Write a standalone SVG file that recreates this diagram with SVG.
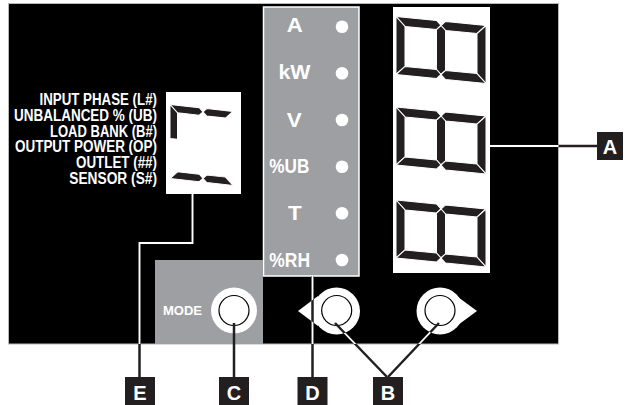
<svg xmlns="http://www.w3.org/2000/svg" width="624" height="405" viewBox="0 0 624 405">
<style>
.seg{fill:#231f20;stroke:#fff;stroke-width:1;stroke-linejoin:miter}
.lbl{font-family:"Liberation Sans",Arial,sans-serif;font-weight:bold;fill:#fff}
.left{font-size:16px;text-anchor:end}
.mid{font-size:21px}
.dot{fill:#fff}
.box{fill:#231f20}
.letter{font-family:"Liberation Sans",Arial,sans-serif;font-weight:bold;font-size:20px;fill:#fff;text-anchor:middle}
.ln{fill:none;stroke:#231f20;stroke-width:2.5}
.lnw{fill:none;stroke:#fff;stroke-width:1.8}
.btn{fill:#fff}
.inner{fill:#fff;stroke:#000;stroke-width:1.2}
</style>
<defs>
<g id="row">
<polygon class="seg" points="0,0 40.5,0 45,4.5 40.5,9 9,9"/>
<polygon class="seg" points="49.5,0 90,0 81,9 49.5,9 45,4.5"/>
<polygon class="seg" points="0,0 9,9 9,49 0,58"/>
<polygon class="seg" points="45,4.5 49.5,9 49.5,49 45,53.5 40.5,49 40.5,9"/>
<polygon class="seg" points="90,0 90,58 81,49 81,9"/>
<polygon class="seg" points="0,58 9,49 40.5,49 45,53.5 40.5,58"/>
<polygon class="seg" points="45,53.5 49.5,49 81,49 90,58 49.5,58"/>
</g>
<mask id="onpanel" maskUnits="userSpaceOnUse" x="0" y="0" width="624" height="405">
<rect x="8.5" y="3.5" width="550" height="340.5" fill="#fff"/>
<rect x="155" y="260" width="108" height="84" fill="#000"/>
<circle cx="234" cy="310.5" r="23" fill="#000"/>
<circle cx="336.5" cy="311" r="23.5" fill="#000"/>
<polygon points="298,311 318,296 318,326" fill="#000"/>
<circle cx="440" cy="311" r="23.5" fill="#000"/>
<polygon points="477,311 458,297 458,325" fill="#000"/>
</mask>
</defs>

<rect id="panel" x="8.5" y="3.5" width="550" height="340.5" fill="#000" stroke="#b8b8b8" stroke-width="1"/>

<g id="left-labels">
<text class="lbl left" x="157" y="105" textLength="117.5" lengthAdjust="spacingAndGlyphs">INPUT PHASE (L#)</text>
<text class="lbl left" x="157" y="120.7" textLength="143" lengthAdjust="spacingAndGlyphs">UNBALANCED % (UB)</text>
<text class="lbl left" x="157" y="136.5" textLength="107" lengthAdjust="spacingAndGlyphs">LOAD BANK (B#)</text>
<text class="lbl left" x="157" y="152.2" textLength="142" lengthAdjust="spacingAndGlyphs">OUTPUT POWER (OP)</text>
<text class="lbl left" x="157" y="168" textLength="81" lengthAdjust="spacingAndGlyphs">OUTLET (##)</text>
<text class="lbl left" x="157" y="183.7" textLength="87.7" lengthAdjust="spacingAndGlyphs">SENSOR (S#)</text>
</g>

<g id="mode-display">
<rect x="166" y="92" width="75" height="102" fill="#fff"/>
<g transform="matrix(1,0.11,0,1,170,104.5)">
<polygon class="seg" points="0,0 29.25,0 33,3.75 29.25,7.5 7.5,7.5"/>
<polygon class="seg" points="36.75,0 63,0 55.5,7.5 36.75,7.5 33,3.75"/>
<polygon class="seg" points="0,0 7.5,7.5 7.5,34 0,34"/>
<polygon class="seg" points="0,74 7.5,66.5 29.25,66.5 33,70.25 29.25,74"/>
<polygon class="seg" points="33,70.25 36.75,66.5 55.5,66.5 63,74 36.75,74"/>
</g>
</g>

<g id="unit-column">
<rect x="263.5" y="7" width="95.5" height="269" fill="#9d9fa2" stroke="#fff" stroke-width="1.5"/>
<text class="lbl mid" x="286.7" y="32" textLength="16" lengthAdjust="spacingAndGlyphs">A</text>
<text class="lbl mid" x="278.5" y="79" textLength="32" lengthAdjust="spacingAndGlyphs">kW</text>
<text class="lbl mid" x="286.7" y="126.5" textLength="15" lengthAdjust="spacingAndGlyphs">V</text>
<text class="lbl mid" x="269.3" y="173" textLength="40" lengthAdjust="spacingAndGlyphs">%UB</text>
<text class="lbl mid" x="288" y="220" textLength="13.7" lengthAdjust="spacingAndGlyphs">T</text>
<text class="lbl mid" x="269.3" y="266.5" textLength="40.7" lengthAdjust="spacingAndGlyphs">%RH</text>
<circle class="dot" cx="342" cy="26.7" r="6.3"/>
<circle class="dot" cx="342" cy="73.3" r="6.3"/>
<circle class="dot" cx="342" cy="120" r="6.3"/>
<circle class="dot" cx="342" cy="166.7" r="6.3"/>
<circle class="dot" cx="342" cy="213.3" r="6.3"/>
<circle class="dot" cx="342" cy="260" r="6.3"/>
</g>

<g id="main-display">
<rect x="393" y="7" width="97" height="266" fill="#fff"/>
<use href="#row" transform="matrix(1,0.1,0,1,396,16.5)"/>
<use href="#row" transform="matrix(1,0.1,0,1,396,107)"/>
<use href="#row" transform="matrix(1,0.1,0,1,396,200)"/>
</g>

<g id="mode-area">
<rect x="155" y="260" width="108" height="84" fill="#9d9fa2"/>
<text class="lbl" x="163" y="315" font-size="13.5" textLength="39" lengthAdjust="spacingAndGlyphs">MODE</text>
<circle class="btn" cx="234" cy="310.5" r="23"/>
<circle class="inner" cx="234" cy="310.5" r="15"/>
</g>

<g id="left-button">
<polygon class="btn" points="298,311 318,296 318,326"/>
<circle class="btn" cx="336.5" cy="311" r="23.5"/>
<circle class="inner" cx="336.7" cy="310.5" r="15"/>
</g>

<g id="right-button">
<polygon class="btn" points="477,311 458,297 458,325"/>
<circle class="btn" cx="440" cy="311" r="23.5"/>
<circle class="inner" cx="440" cy="310.5" r="15"/>
</g>

<g id="connectors">
<g>
<polyline class="ln" points="192.5,194 192.5,243 139.5,243 139.5,377"/>
<line class="ln" x1="234" y1="323" x2="234" y2="377"/>
<line class="ln" x1="312.5" y1="276" x2="312.5" y2="377"/>
<line class="ln" x1="335" y1="323" x2="387" y2="377"/>
<line class="ln" x1="439" y1="323" x2="388" y2="377"/>
<line class="ln" x1="490" y1="146" x2="597" y2="146"/>
</g>
<g mask="url(#onpanel)">
<polyline class="lnw" points="192.5,194 192.5,243 139.5,243 139.5,377"/>
<line class="lnw" x1="234" y1="323" x2="234" y2="377"/>
<line class="lnw" x1="312.5" y1="276" x2="312.5" y2="377"/>
<line class="lnw" x1="335" y1="323" x2="387" y2="377"/>
<line class="lnw" x1="439" y1="323" x2="388" y2="377"/>
<line class="lnw" x1="490" y1="146" x2="597" y2="146"/>
</g>
</g>

<g id="label-A"><rect class="box" x="597" y="132" width="26" height="28"/><text class="letter" x="610" y="153.5">A</text></g>
<g id="label-B"><rect class="box" x="373" y="377" width="30" height="28"/><text class="letter" x="388" y="399.5">B</text></g>
<g id="label-C"><rect class="box" x="219" y="377" width="30" height="28"/><text class="letter" x="234" y="399.5">C</text></g>
<g id="label-D"><rect class="box" x="297.5" y="377" width="30" height="28"/><text class="letter" x="312.5" y="399.5">D</text></g>
<g id="label-E"><rect class="box" x="125" y="377" width="30" height="28"/><text class="letter" x="140" y="399.5">E</text></g>
</svg>
